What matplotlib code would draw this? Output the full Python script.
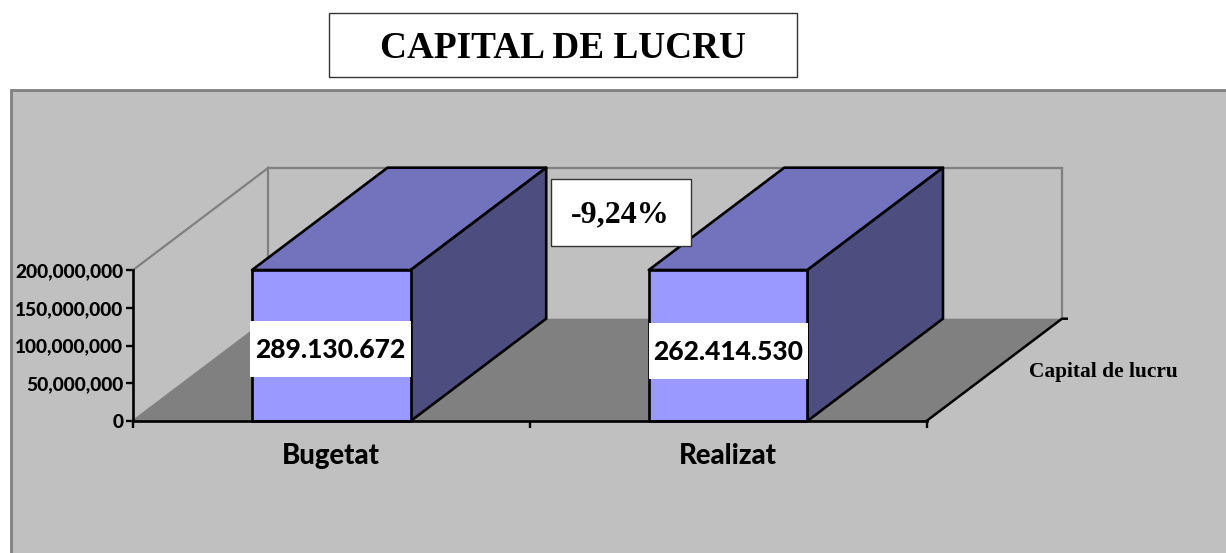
"""Excel-style 3D column chart: CAPITAL DE LUCRU (buget vs realizat)."""

import matplotlib
matplotlib.use("Agg")
import matplotlib.pyplot as plt
from matplotlib.patches import Polygon, Rectangle
from matplotlib.ticker import StrMethodFormatter

W, H = 1226, 553

categories = ["Bugetat", "Realizat"]
values = [289130672, 262414530]
y_ticks = [0, 50000000, 100000000, 150000000, 200000000]
y_max = 200000000
series_name = "Capital de lucru"
title = "CAPITAL DE LUCRU"
change_label = "-9,24%"

BG = "#C0C0C0"
GRID = "#808080"
FRONT = "#9999FF"
TOP = "#7373BD"
SIDE = "#4D4D80"

# oblique depth of the box, in data units
DEPTH_X = 0.3415
DEPTH_Y = 135500000
BAR_W = 0.40


def px(x, y):
    """Reference pixel -> figure fraction."""
    return x / W, 1 - y / H


def fig_box(fig, x0, y0, x1, y1, face, edge, lw, zorder):
    fig.add_artist(Rectangle(px(x0, y1), (x1 - x0) / W, (y1 - y0) / H, transform=fig.transFigure,
                             facecolor=face, edgecolor=edge, linewidth=lw, zorder=zorder))


def draw_walls(ax):
    n = len(categories)
    dx, dy = DEPTH_X, DEPTH_Y
    floor = [(0, 0), (n, 0), (n + dx, dy), (dx, dy)]
    ax.add_patch(Polygon(floor, closed=True, facecolor=GRID, edgecolor="none", clip_on=False, zorder=1))
    for xs, ys in [([0, dx], [y_max, y_max + dy]),
                   ([dx, n + dx], [y_max + dy, y_max + dy]),
                   ([dx, dx], [dy, y_max + dy]),
                   ([n + dx, n + dx], [dy, y_max + dy]),
                   ([0, dx], [0, dy])]:
        ax.plot(xs, ys, color=GRID, lw=1.6, clip_on=False, zorder=2)
    # front edge of the floor on the depth axis
    ax.plot([n, n + dx, n + dx + 0.012], [0, dy, dy], color="black", lw=1.8, clip_on=False, zorder=6)


def draw_bar(ax, center, value):
    # values above the axis maximum are cut at the top of the scale
    h = min(value, y_max)
    x0, x1 = center - BAR_W / 2, center + BAR_W / 2
    dx, dy = DEPTH_X, DEPTH_Y
    faces = [
        ([(x0, h), (x1, h), (x1 + dx, h + dy), (x0 + dx, h + dy)], TOP),
        ([(x1, 0), (x1 + dx, dy), (x1 + dx, h + dy), (x1, h)], SIDE),
        ([(x0, 0), (x1, 0), (x1, h), (x0, h)], FRONT),
    ]
    for pts, color in faces:
        ax.add_patch(Polygon(pts, closed=True, facecolor=color, edgecolor="black", lw=1.9,
                             joinstyle="round", clip_on=False, zorder=4))


fig = plt.figure(figsize=(W / 100, H / 100), dpi=100, facecolor="white")

# grey chart area
fig_box(fig, 11, 90, W + 10, H + 10, BG, GRID, 2, 0)

left, bottom = px(133, 421)
ax = fig.add_axes([left, bottom, (926.5 - 133) / W, (421 - 270) / H])
ax.patch.set_visible(False)
ax.set_xlim(0, len(categories))
ax.set_ylim(0, y_max)

draw_walls(ax)
centers = [i + 0.5 for i in range(len(categories))]
for c, v in zip(centers, values):
    draw_bar(ax, c, v)

for s in ["top", "right"]:
    ax.spines[s].set_visible(False)
for s in ["left", "bottom"]:
    ax.spines[s].set_linewidth(1.9)
    ax.spines[s].set_zorder(6)

ax.set_yticks(y_ticks)
ax.yaxis.set_major_formatter(StrMethodFormatter("{x:,.0f}"))
ax.set_xticks(range(len(categories) + 1))
ax.set_xticklabels([])
ax.tick_params(axis="both", width=1.7, length=5, zorder=6)
ax.tick_params(axis="y", pad=2, labelsize=13.8)
for lab in ax.get_yticklabels():
    lab.set_fontfamily("Lato")
    lab.set_fontweight(900)

for c, name in zip(centers, categories):
    ax.annotate(name, (c, 0), xytext=(0, -35), textcoords="offset pixels",
                ha="center", va="center", family="Lato", weight=900, fontsize=19.8)

# value labels on white strips
label_boxes = [(250, 321, 411, 377), (649, 323, 808, 379)]
for (x0, y0, x1, y1), v in zip(label_boxes, values):
    fig_box(fig, x0, y0, x1, y1, "white", "none", 0, 7)
    fig.text(*px((x0 + x1) / 2, (y0 + y1) / 2 + 1), f"{v:,}".replace(",", "."), ha="center", va="center",
             family="Lato", weight=900, fontsize=19, zorder=8)

# title and change boxes
fig_box(fig, 329, 13, 797, 77, "white", "#333333", 1, 7)
fig.text(*px(563, 49), title, ha="center", va="center", family="Liberation Serif", weight="bold",
         fontsize=26.8, zorder=8)
fig_box(fig, 551, 179, 691, 246, "white", "#333333", 1, 7)
fig.text(*px(620, 215), change_label, ha="center", va="center", family="Liberation Serif", weight="bold",
         fontsize=23, zorder=8)

fig.text(*px(1103, 372), series_name, ha="center", va="center", family="Liberation Serif", weight="bold",
         fontsize=15.4, zorder=8)

fig.savefig("out.png", dpi=100, facecolor="white")
